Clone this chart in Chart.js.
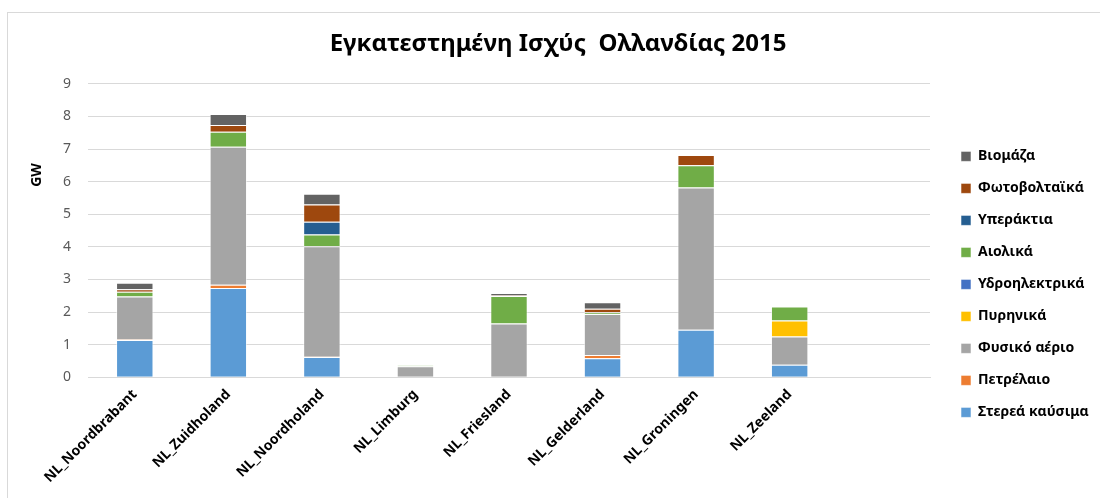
<!DOCTYPE html>
<html lang="el">
<head>
  <meta charset="UTF-8">
  <title>Εγκατεστημένη Ισχύς Ολλανδίας 2015</title>
  <script src="https://cdn.jsdelivr.net/npm/chart.js"></script>
  <style>
    html, body { margin: 0; padding: 0; background: #fff; overflow: hidden; }
    #wrap { position: absolute; left: 7px; top: 12px; width: 1100px; height: 486px; border: 1px solid #d9d9d9; }
    canvas { display: block; }
  </style>
</head>
<body>
  <div id="wrap">
    <canvas id="chart" width="1100" height="486"></canvas>
  </div>

  <script>
    const regions = ['NL_Noordbrabant', 'NL_Zuidholand', 'NL_Noordholand', 'NL_Limburg',
                     'NL_Friesland', 'NL_Gelderland', 'NL_Groningen', 'NL_Zeeland', ''];

    // GW per region (stack order bottom -> top)
    const solid    = [1.14, 2.74, 0.62, 0,    0,    0.58, 1.46, 0.38];
    const oil      = [0.02, 0.10, 0.01, 0,    0,    0.10, 0,    0];
    const gas      = [1.32, 4.23, 3.39, 0.34, 1.65, 1.26, 4.36, 0.87];
    const nuclear  = [0,    0,    0,    0,    0,    0,    0,    0.49];
    const hydro    = [0,    0,    0,    0,    0,    0,    0,    0];
    const wind     = [0.14, 0.46, 0.36, 0.02, 0.84, 0.05, 0.68, 0.43];
    const offshore = [0,    0,    0.39, 0,    0,    0,    0,    0];
    const solarPv  = [0.08, 0.21, 0.53, 0,    0.02, 0.11, 0.32, 0];
    const biomass  = [0.20, 0.33, 0.33, 0,    0.07, 0.20, 0,    0];

    const yTicks = [0, 1, 2, 3, 4, 5, 6, 7, 8, 9];

    const series = [
      ['Στερεά καύσιμα', solid, '#5B9BD5'],
      ['Πετρέλαιο', oil, '#ED7D31'],
      ['Φυσικό αέριο', gas, '#A5A5A5'],
      ['Πυρηνικά', nuclear, '#FFC000'],
      ['Υδροηλεκτρικά', hydro, '#4472C4'],
      ['Αιολικά', wind, '#70AD47'],
      ['Υπεράκτια', offshore, '#255E91'],
      ['Φωτοβολταϊκά', solarPv, '#9E480E'],
      ['Βιομάζα', biomass, '#636363']
    ];

    const FONT = "'Noto Sans', 'DejaVu Sans', sans-serif";
    const LEGEND_W = 178;   // reserves room so the plot ends where the original does
    const LEGEND_SHIFT = 13;

    // GW label sits higher than the axis centre in the original
    const gwLabel = {
      id: 'gwLabel',
      afterDraw(chart) {
        const ctx = chart.ctx;
        ctx.save();
        ctx.translate(29, 162);
        ctx.rotate(-Math.PI / 2);
        ctx.font = 'bold 14px ' + FONT;
        ctx.fillStyle = '#000';
        ctx.textAlign = 'center';
        ctx.textBaseline = 'middle';
        ctx.fillText('GW', 0, 0);
        ctx.restore();
      }
    };

    const legendBox = {
      id: 'legendBox',
      beforeLayout(chart) {
        const lg = chart.legend;
        if (lg && !lg._wide) {
          const fit = lg.fit.bind(lg);
          lg.fit = function () { fit(); this.width = LEGEND_W; };
          lg._wide = true;
        }
      },
      afterLayout(chart) {
        chart.legend.left += LEGEND_SHIFT;
        chart.legend.right += LEGEND_SHIFT;
      }
    };

    new Chart(document.getElementById('chart'), {
      type: 'bar',
      data: {
        labels: regions,
        datasets: series.map(([label, values, color]) => ({
          label: label,
          data: values.map(v => v === 0 ? null : v),
          backgroundColor: color,
          borderColor: 'rgba(255,255,255,0.55)',
          borderWidth: 1,
          barPercentage: 0.4,
          categoryPercentage: 1
        }))
      },
      options: {
        responsive: false,
        animation: false,
        layout: { padding: { left: 0, right: 0, top: 0, bottom: 4 } },
        plugins: {
          title: {
            display: true,
            text: 'Εγκατεστημένη Ισχύς  Ολλανδίας 2015',
            color: '#000',
            font: { family: FONT, size: 24, weight: 'bold' },
            padding: { top: 17, bottom: 25 }
          },
          legend: {
            position: 'right',
            reverse: true,
            title: { display: true, text: ' ', padding: { top: 104, bottom: 0 } },
            align: 'start',
            labels: {
              color: '#000',
              font: { family: FONT, size: 14, weight: 'bold' },
              boxWidth: 10,
              boxHeight: 10,
              padding: 18
            }
          },
          tooltip: { enabled: false }
        },
        scales: {
          x: {
            stacked: true,
            grid: { display: false, drawTicks: false },
            border: { color: '#d9d9d9' },
            ticks: {
              color: '#000',
              font: { family: FONT, size: 14, weight: 'bold' },
              minRotation: 45,
              maxRotation: 45,
              autoSkip: false,
              padding: 9
            }
          },
          y: {
            stacked: true,
            min: 0,
            max: 9,
            afterFit(axis) { axis.width = 80; },
            grid: { color: '#d9d9d9', drawTicks: false },
            border: { display: false },
            afterBuildTicks(axis) { axis.ticks = yTicks.map(v => ({ value: v })); },
            ticks: {
              color: '#595959',
              font: { family: FONT, size: 14 },
              padding: 17
            }
          }
        }
      },
      plugins: [gwLabel, legendBox]
    });
  </script>
</body>
</html>
